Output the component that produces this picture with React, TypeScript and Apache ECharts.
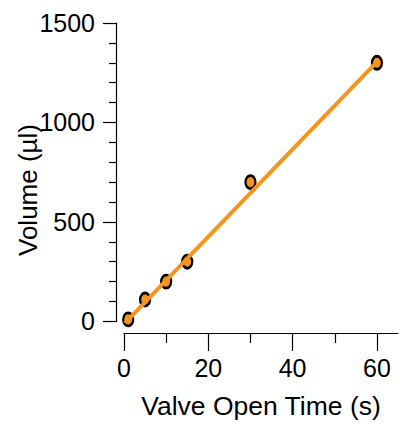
import React, { useEffect, useRef } from "react";
import * as echarts from "echarts";

const pointX = [1, 5, 10, 15, 30, 60];
const pointY = [10, 110, 200, 300, 700, 1300];
const fitX = [0.5, 60];
const fitY = [-2, 1305];
const xMajorTicks = [0, 20, 40, 60];
const xMinorTicks = [10, 30, 50];
const xTitle = "Valve Open Time (s)";
const yTitle = "Volume (µl)";

const FONT = "'Liberation Sans', Arial, Helvetica, sans-serif";
const ORANGE = "#F7941E";

export default function App() {
  const ref = useRef<HTMLDivElement>(null);
  useEffect(() => {
    if (!ref.current) return;
    const chart = echarts.init(ref.current, null, { renderer: "svg" });
    const lineStyle = { color: "#000", width: 1.2 };
    chart.setOption({
      animation: false,
      backgroundColor: "#fff",
      textStyle: { fontFamily: FONT },
      grid: { left: 124, right: 2, top: 23, bottom: 102.3, containLabel: false },
      xAxis: [
        {
          type: "value",
          min: 0,
          max: 65,
          interval: 20,
          position: "bottom",
          offset: 11.6,
          axisLine: { show: true, onZero: false, lineStyle },
          splitLine: { show: false },
          axisTick: {
            show: true,
            length: 18,
            customValues: xMajorTicks,
            lineStyle,
          },
          axisLabel: {
            customValues: xMajorTicks,
            margin: 22,
            fontSize: 25,
            color: "#000",
            fontFamily: FONT,
          },
          name: xTitle,
          nameLocation: "middle",
          nameGap: 59,
          nameTextStyle: { fontSize: 26.5, color: "#000", fontFamily: FONT },
        },
        {
          type: "value",
          min: 0,
          max: 65,
          interval: 20,
          position: "bottom",
          offset: 11.6,
          axisLine: { show: false, onZero: false },
          splitLine: { show: false },
          axisLabel: { show: false },
          axisTick: {
            show: true,
            length: 10,
            customValues: xMinorTicks,
            lineStyle,
          },
        },
      ],
      yAxis: {
        type: "value",
        min: 0,
        max: 1500,
        interval: 500,
        position: "left",
        offset: 8,
        axisLine: { show: true, onZero: false, lineStyle },
        splitLine: { show: false },
        axisTick: { show: true, length: 13, lineStyle },
        minorTick: { show: true, splitNumber: 5, length: 7, lineStyle },
        minorSplitLine: { show: false },
        axisLabel: {
          margin: 21,
          fontSize: 25,
          color: "#000",
          fontFamily: FONT,
          formatter: (v: number) => String(v),
        },
      },
      graphic: [
        {
          type: "text",
          x: 28,
          y: 190,
          rotation: Math.PI / 2,
          style: {
            text: yTitle,
            fontSize: 26,
            fontFamily: FONT,
            fill: "#000",
            textAlign: "center",
            textVerticalAlign: "middle",
          },
        },
      ],
      series: [
        {
          type: "scatter",
          xAxisIndex: 0,
          data: pointX.map((x, i) => [x, pointY[i]]),
          symbol: "path://M0,6 A4.5,6 0 1,1 9,6 A4.5,6 0 1,1 0,6 Z",
          symbolSize: [10, 13],
          itemStyle: { color: ORANGE, borderColor: "#000", borderWidth: 2.5, opacity: 1 },
          z: 2,
        },
        {
          type: "line",
          xAxisIndex: 0,
          data: fitX.map((x, i) => [x, fitY[i]]),
          showSymbol: false,
          symbol: "none",
          lineStyle: { color: ORANGE, width: 4, cap: "round" },
          z: 3,
        },
      ],
    });
    return () => chart.dispose();
  }, []);
  return (
    <div
      ref={ref}
      style={{ position: "fixed", left: 0, top: 0, width: 400, height: 424, background: "#fff" }}
    />
  );
}
